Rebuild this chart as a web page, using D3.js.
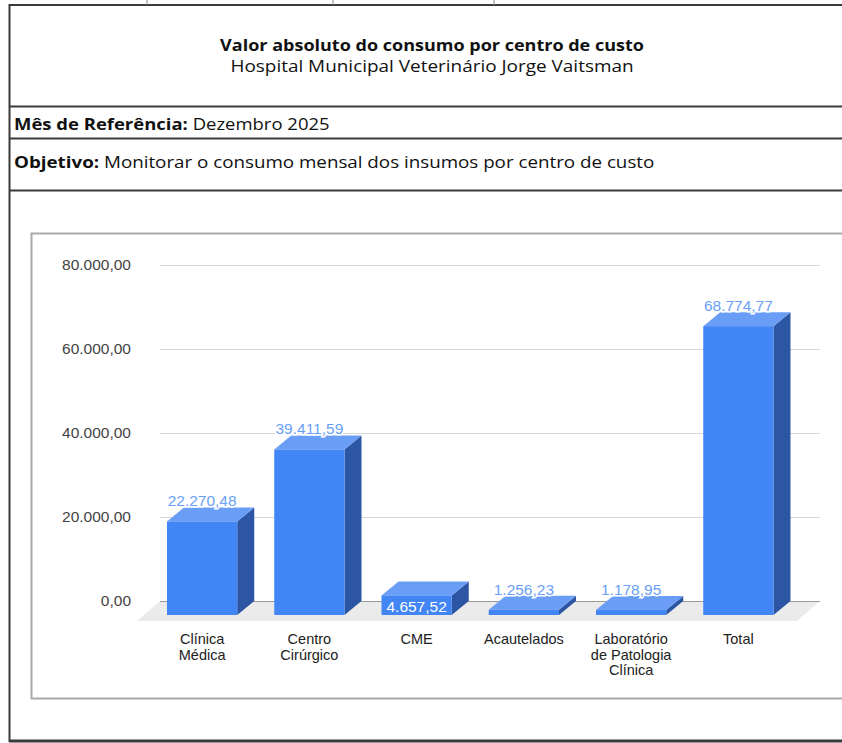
<!DOCTYPE html>
<html>
<head>
<meta charset="utf-8">
<script src="https://cdn.jsdelivr.net/npm/d3@7"></script>
<style>
  body { margin: 0; background: #fff; }
  svg { display: block; }
  .hdr { font-family: "Open Sans", "Noto Sans", sans-serif; fill: #111; }
</style>
</head>
<body>
<div id="chart"></div>
<script>
// Chart data
const categories = ["Clínica Médica", "Centro Cirúrgico", "CME", "Acautelados", "Laboratório de Patologia Clínica", "Total"];
const categoryLines = [["Clínica", "Médica"], ["Centro", "Cirúrgico"], ["CME"], ["Acautelados"], ["Laboratório", "de Patologia", "Clínica"], ["Total"]];
const values = [22270.48, 39411.59, 4657.52, 1256.23, 1178.95, 68774.77];
const yTicks = [0, 20000, 40000, 60000, 80000];
const labelsInside = ["CME"];

const W = 842, H = 743;
const sans = '"Liberation Sans", Arial, sans-serif';

const locale = d3.formatLocale({ decimal: ",", thousands: ".", grouping: [3], currency: ["R$", ""] });
const fmt = locale.format(",.2f");

const svg = d3.select('#chart')
    .append('svg')
    .attr('width', W)
    .attr('height', H);

// Header table
const lineCol = '#3a3a3a';
svg.append('line').attr('x1', 9).attr('x2', W).attr('y1', 5).attr('y2', 5).attr('stroke', lineCol).attr('stroke-width', 2);
[147, 333, 494].forEach(x => {
    svg.append('line').attr('x1', x).attr('x2', x).attr('y1', 0).attr('y2', 5).attr('stroke', '#888').attr('stroke-width', 1);
});
svg.append('line').attr('x1', 9.5).attr('x2', 9.5).attr('y1', 4).attr('y2', 742).attr('stroke', lineCol).attr('stroke-width', 2);
[106.5, 138.5, 190.5].forEach(y => {
    svg.append('line').attr('x1', 9).attr('x2', W).attr('y1', y).attr('y2', y).attr('stroke', lineCol).attr('stroke-width', 2);
});
svg.append('line').attr('x1', 9).attr('x2', W).attr('y1', 741).attr('y2', 741).attr('stroke', lineCol).attr('stroke-width', 3);

// header texts are drawn a bit wide, like the original spreadsheet font
function headerText(x, y, sx, anchor) {
    return svg.append('text').attr('class', 'hdr')
        .attr('transform', `translate(${x},${y}) scale(${sx},1)`)
        .attr('text-anchor', anchor)
        .attr('font-size', 15.4);
}

headerText(432, 51, 1.17, 'middle')
    .attr('font-weight', 700)
    .text('Valor absoluto do consumo por centro de custo');
headerText(432, 72, 1.23, 'middle')
    .text('Hospital Municipal Veterinário Jorge Vaitsman');

const mes = headerText(14, 130, 1.2, 'start');
mes.append('tspan').attr('font-weight', 700).text('Mês de Referência:');
mes.append('tspan').text(' Dezembro 2025');

const obj = headerText(14, 168, 1.22, 'start');
obj.append('tspan').attr('font-weight', 700).text('Objetivo:');
obj.append('tspan').text(' Monitorar o consumo mensal dos insumos por centro de custo');

// Chart box
svg.append('rect')
    .attr('x', 31.5).attr('y', 233.5)
    .attr('width', 830).attr('height', 465)
    .attr('fill', '#fff')
    .attr('stroke', '#aaa').attr('stroke-width', 2);

// Scales (back plane)
const dx = 17, dy = 14;
const y = d3.scaleLinear().domain([0, 80000]).range([601, 265]);
const x = d3.scaleBand()
    .domain(categories)
    .range([148.5, 792])
    .paddingInner(0.345)
    .paddingOuter(0.1725);
const gridX0 = 160, gridX1 = 820;

// Floor
svg.append('polygon')
    .attr('points', [[gridX0, y(0)], [gridX1, y(0)], [gridX1 - 23, y(0) + 20], [gridX0 - 23, y(0) + 20]].map(p => p.join(',')).join(' '))
    .attr('fill', '#ebebeb');

// Gridlines
yTicks.forEach(t => {
    svg.append('line')
        .attr('x1', gridX0).attr('x2', gridX1)
        .attr('y1', y(t) + 0.5).attr('y2', y(t) + 0.5)
        .attr('stroke', t === 0 ? '#9a9a9a' : '#d6d6d6')
        .attr('stroke-width', 1.2);
});

// Y axis labels
const yAxis = d3.axisLeft(y)
    .tickValues(yTicks)
    .tickSize(0)
    .tickPadding(0)
    .tickFormat(d => fmt(d));
const yG = svg.append('g')
    .attr('transform', 'translate(131,0)')
    .call(yAxis);
yG.select('.domain').remove();
yG.selectAll('text').attr('font-size', 15.5).attr('fill', '#444').attr('font-family', sans);

// Bars
const bw = x.bandwidth();
const front = '#4285f4', topC = '#6a9ef6', sideC = '#2c56a3';
const base = y(0) + dy;

values.forEach((v, i) => {
    const bx = x(categories[i]);
    const fy = y(v) + dy;
    const g = svg.append('g');

    g.append('polygon')
        .attr('points', [[bx + bw, fy], [bx + bw + dx, fy - dy], [bx + bw + dx, y(0)], [bx + bw, base]].map(p => p.join(',')).join(' '))
        .attr('fill', sideC);
    g.append('polygon')
        .attr('points', [[bx, fy], [bx + dx, fy - dy], [bx + bw + dx, fy - dy], [bx + bw, fy]].map(p => p.join(',')).join(' '))
        .attr('fill', topC);
    g.append('rect')
        .attr('x', bx).attr('y', fy)
        .attr('width', bw).attr('height', base - fy)
        .attr('fill', front);

    const inside = labelsInside.includes(categories[i]);
    g.append('text')
        .attr('x', bx + bw / 2)
        .attr('y', inside ? base - 3 : fy - dy - 1)
        .attr('text-anchor', 'middle')
        .attr('font-family', sans)
        .attr('font-size', 15.5)
        .attr('fill', inside ? '#fff' : '#6b9ff6')
        .attr('stroke', inside ? 'none' : '#fff')
        .attr('stroke-width', 3)
        .attr('paint-order', 'stroke')
        .text(fmt(v));

    // category labels, one text per line
    categoryLines[i].forEach((l, j) => {
        svg.append('text')
            .attr('x', bx + bw / 2)
            .attr('y', 644 + j * 15.5)
            .attr('text-anchor', 'middle')
            .attr('font-family', sans)
            .attr('font-size', 14.5)
            .attr('fill', '#222')
            .text(l);
    });
});
</script>
</body>
</html>
